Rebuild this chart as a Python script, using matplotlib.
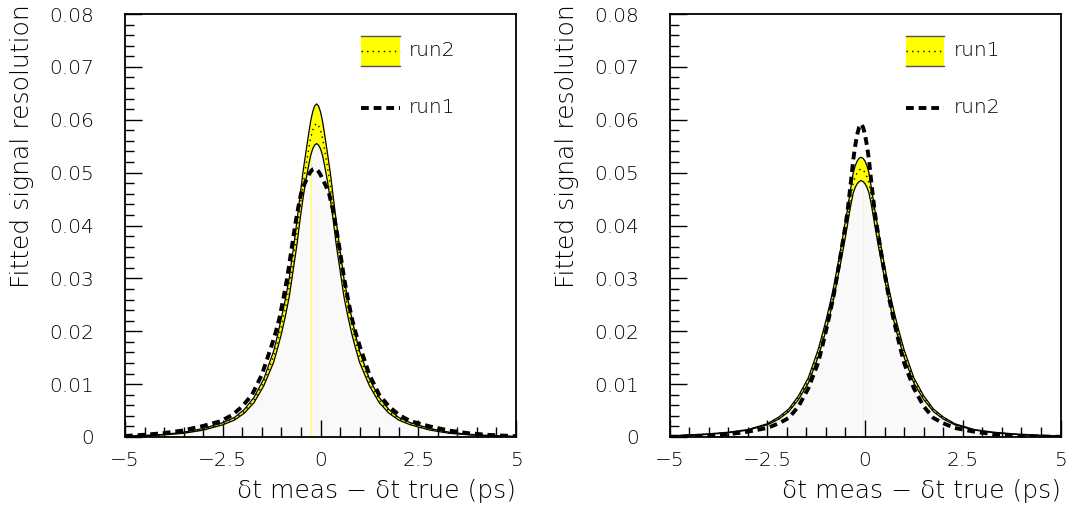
import matplotlib
matplotlib.use("Agg")
import matplotlib.pyplot as plt
from matplotlib.ticker import MultipleLocator
from matplotlib.lines import Line2D
from matplotlib.patches import Rectangle

# ---------------- data ----------------
# x grid for the fitted bands (ps)
x_band = [-5.0, -4.5, -4.0, -3.5, -3.0, -2.5, -2.2, -1.95, -1.7, -1.45, -1.2, -1.1, -1.0,
          -0.9, -0.8, -0.7, -0.6, -0.525, -0.45, -0.375, -0.3, -0.25, -0.2, -0.15, -0.1,
          -0.05, 0.0, 0.05, 0.1, 0.175, 0.25, 0.325, 0.4, 0.5, 0.6, 0.7, 0.8, 0.9, 1.0,
          1.25, 1.5, 1.75, 2.0, 2.3, 2.8, 3.3, 3.8, 4.3, 5.0]

# left panel: band = run2, dashed = run1
left_upper = [0.00015, 0.0003, 0.0005, 0.0009, 0.0016, 0.0027, 0.0037, 0.0052, 0.0075, 0.0110,
              0.0162, 0.0192, 0.0225, 0.0260, 0.0300, 0.0353, 0.0410, 0.0455, 0.0500, 0.0538,
              0.0575, 0.0598, 0.0615, 0.0626, 0.0630,
              0.0626, 0.0615, 0.0598, 0.0575, 0.0538, 0.0500, 0.0455, 0.0410, 0.0353, 0.0300,
              0.0260, 0.0225, 0.0192, 0.0162, 0.0110, 0.0075, 0.0052, 0.0037, 0.0027, 0.0016,
              0.0009, 0.0005, 0.0003, 0.0001]
left_lower = [0.0001, 0.0002, 0.0004, 0.0007, 0.0013, 0.0023, 0.0032, 0.0045, 0.0065, 0.0097,
              0.0141, 0.0167, 0.0195, 0.0228, 0.0265, 0.0315, 0.0365, 0.0410, 0.0450, 0.0485,
              0.0515, 0.0533, 0.0545, 0.0552, 0.0555,
              0.0552, 0.0545, 0.0533, 0.0515, 0.0485, 0.0450, 0.0410, 0.0365, 0.0315, 0.0265,
              0.0228, 0.0195, 0.0167, 0.0141, 0.0097, 0.0065, 0.0045, 0.0032, 0.0023, 0.0013,
              0.0007, 0.0004, 0.0002, 0.00008]
left_mid = [0.00012, 0.00025, 0.00045, 0.0008, 0.00145, 0.0025, 0.00345, 0.00485, 0.0070, 0.01035,
            0.0152, 0.0180, 0.0210, 0.0244, 0.0283, 0.0334, 0.0388, 0.0433, 0.0475, 0.0512,
            0.0545, 0.0566, 0.0580, 0.0589, 0.0593,
            0.0589, 0.0580, 0.0566, 0.0545, 0.0512, 0.0475, 0.0433, 0.0388, 0.0334, 0.0283,
            0.0244, 0.0210, 0.0180, 0.0152, 0.01035, 0.0070, 0.00485, 0.00345, 0.0025, 0.00145,
            0.0008, 0.00045, 0.00025, 0.00009]
x_dash_left = [-5.0, -4.55, -4.05, -3.55, -3.05, -2.55, -2.25, -2.0, -1.75, -1.5, -1.25, -1.15,
               -1.05, -0.95, -0.85, -0.75, -0.65, -0.575, -0.5, -0.425, -0.35, -0.3, -0.25,
               -0.2, -0.15, -0.1, -0.05, 0.0, 0.05, 0.13, 0.22, 0.31, 0.39, 0.5, 0.6, 0.7,
               0.8, 0.9, 1.0, 1.25, 1.5, 1.75, 2.0, 2.3, 2.8, 3.3, 3.8, 4.3, 5.0]
left_dashed = [0.0002, 0.0004, 0.0007, 0.0012, 0.0020, 0.0030, 0.0042, 0.0058, 0.0080, 0.0118,
               0.0173, 0.0197, 0.0225, 0.0262, 0.0302, 0.0351, 0.0400, 0.0432, 0.0460, 0.0476,
               0.0488, 0.0496, 0.0502, 0.0506, 0.0507,
               0.0506, 0.0502, 0.0496, 0.0488, 0.0476, 0.0460, 0.0432, 0.0400, 0.0351, 0.0302,
               0.0262, 0.0225, 0.0197, 0.0173, 0.0118, 0.0080, 0.0058, 0.0042, 0.0030, 0.0020,
               0.0012, 0.0007, 0.0004, 0.00015]

# right panel: band = run1, dashed = run2
right_upper = [0.0002, 0.0004, 0.0006, 0.0009, 0.0014, 0.0025, 0.0038, 0.0053, 0.0078, 0.0112,
               0.0165, 0.0192, 0.0220, 0.0251, 0.0285, 0.0324, 0.0365, 0.0398, 0.0430, 0.0466,
               0.0500, 0.0513, 0.0522, 0.0527, 0.0529,
               0.0527, 0.0522, 0.0513, 0.0500, 0.0466, 0.0430, 0.0398, 0.0365, 0.0324, 0.0285,
               0.0251, 0.0220, 0.0192, 0.0165, 0.0112, 0.0078, 0.0053, 0.0038, 0.0025, 0.0014,
               0.0009, 0.0006, 0.0004, 0.00015]
right_lower = [0.00018, 0.0003, 0.0005, 0.0008, 0.0013, 0.0023, 0.0034, 0.0048, 0.0071, 0.0102,
               0.0151, 0.0175, 0.0201, 0.0230, 0.0262, 0.0300, 0.0338, 0.0368, 0.0400, 0.0434,
               0.0462, 0.0472, 0.0479, 0.0483, 0.0485,
               0.0483, 0.0479, 0.0472, 0.0462, 0.0434, 0.0400, 0.0368, 0.0338, 0.0300, 0.0262,
               0.0230, 0.0201, 0.0175, 0.0151, 0.0102, 0.0071, 0.0048, 0.0034, 0.0023, 0.0013,
               0.0008, 0.0005, 0.0003, 0.00013]
right_mid = [0.0002, 0.00035, 0.00055, 0.00085, 0.00135, 0.0024, 0.0036, 0.00505, 0.00745, 0.0107,
             0.0158, 0.0184, 0.0211, 0.0241, 0.0274, 0.0312, 0.0352, 0.0383, 0.0415, 0.0450,
             0.0481, 0.0492, 0.0500, 0.0505, 0.0507,
             0.0505, 0.0500, 0.0492, 0.0481, 0.0450, 0.0415, 0.0383, 0.0352, 0.0312, 0.0274,
             0.0241, 0.0211, 0.0184, 0.0158, 0.0107, 0.00745, 0.00505, 0.0036, 0.0024, 0.00135,
             0.00085, 0.00055, 0.00035, 0.00014]
right_dashed = [0.00005, 0.0001, 0.0002, 0.0005, 0.0010, 0.0017, 0.0026, 0.0036, 0.0058, 0.0092,
                0.0140, 0.0169, 0.0200, 0.0233, 0.0268, 0.0310, 0.0355, 0.0389, 0.0425, 0.0473,
                0.0525, 0.0551, 0.0572, 0.0586, 0.0592,
                0.0586, 0.0572, 0.0551, 0.0525, 0.0473, 0.0425, 0.0389, 0.0355, 0.0310, 0.0268,
                0.0233, 0.0200, 0.0169, 0.0140, 0.0092, 0.0058, 0.0036, 0.0026, 0.0017, 0.0010,
                0.0005, 0.0002, 0.0001, 0.00004]

# thin vertical marker inside each band (x position, height)
left_marker = (-0.25, 0.053)
right_marker = (-0.05, 0.048)

band_labels = ["run2", "run1"]
dash_labels = ["run1", "run2"]

x_ticks = [-5, -2.5, 0, 2.5, 5]
x_ticklabels = ["\u22125", "\u22122.5", "0", "2.5", "5"]
y_ticks = [0, 0.01, 0.02, 0.03, 0.04, 0.05, 0.06, 0.07, 0.08]
y_ticklabels = ["0", "0.01", "0.02", "0.03", "0.04", "0.05", "0.06", "0.07", "0.08"]

xlabel = "\u03b4t meas \u2212 \u03b4t true (ps)"
ylabel = "Fitted signal resolution"

# ---------------- figure ----------------
plt.rcParams['font.family'] = ['DejaVu Sans']
plt.rcParams['font.weight'] = 'light'
FS = 14.5      # tick labels / legend
FT = 18        # axis titles
TXT = 'black'
fig = plt.figure(figsize=(10.67, 5.13), dpi=100)
W, H = 1067.0, 513.0
ax_l = fig.add_axes([125 / W, (513 - 437) / H, 391 / W, 423 / H])
ax_r = fig.add_axes([669.5 / W, (513 - 437) / H, 391 / W, 423 / H])

panels = [
    (ax_l, left_upper, left_lower, left_mid, x_dash_left, left_dashed, left_marker, '#ffff60'),
    (ax_r, right_upper, right_lower, right_mid, x_band, right_dashed, right_marker, '#f2f2e8'),
]

DASH = (0, (2.0, 1.25))
for i, (ax, up, lo, mid, xd, dash, marker, mcol) in enumerate(panels):
    ax.fill_between(x_band, 0, lo, color='#f9f9f9', lw=0, zorder=1)
    ax.fill_between(x_band, lo, up, color='#ffff00', lw=0, zorder=2)
    ax.vlines(marker[0], 0, marker[1], color=mcol, lw=0.9, zorder=2)
    ax.plot(x_band, up, color='black', lw=0.9, zorder=3)
    ax.plot(x_band, lo, color='black', lw=0.9, zorder=3)
    ax.plot(x_band, mid, color='black', lw=1.0, ls=(0, (1, 3)), zorder=3)
    ax.plot(xd, dash, color='black', lw=2.8, ls=DASH, zorder=4, dash_capstyle='butt')

    ax.set_xlim(-5, 5)
    ax.set_ylim(0, 0.08)
    ax.set_xticks(x_ticks)
    ax.set_xticklabels(x_ticklabels, fontweight='light')
    ax.set_yticks(y_ticks)
    ax.set_yticklabels(y_ticklabels, fontweight='light')
    ax.xaxis.set_minor_locator(MultipleLocator(0.5))
    ax.yaxis.set_minor_locator(MultipleLocator(0.002))
    ax.tick_params(which='both', direction='in', top=False, right=False,
                   labelsize=FS, colors='black', labelcolor=TXT)
    ax.tick_params(axis='x', which='major', length=12, width=1.0, pad=10)
    ax.tick_params(axis='x', which='minor', length=7, width=1.0)
    ax.tick_params(axis='y', which='major', length=12, width=1.0, pad=22)
    ax.tick_params(axis='y', which='minor', length=6.5, width=1.0)
    for s in ax.spines.values():
        s.set_linewidth(1.3)
        s.set_color('black')

    ax.set_xlabel(xlabel, fontsize=FT, loc='right', color=TXT, fontweight='light')
    ax.xaxis.set_label_coords(1.0, -0.1)
    ax.set_ylabel(ylabel, fontsize=FT, loc='top', color=TXT, fontweight='light')
    ax.yaxis.set_label_coords(-0.232, 1.022)

    # legend drawn by hand, as in the reference
    tr = ax.transAxes
    ax.add_patch(Rectangle((0.604, 0.878), 0.099, 0.071, transform=tr,
                           facecolor='#ffff00', edgecolor='none', zorder=5))
    ax.add_line(Line2D([0.604, 0.703], [0.949, 0.949], transform=tr, color='#555555', lw=1.0, zorder=6))
    ax.add_line(Line2D([0.604, 0.703], [0.878, 0.878], transform=tr, color='#555555', lw=1.0, zorder=6))
    ax.add_line(Line2D([0.604, 0.703], [0.913, 0.913], transform=tr, color='black', lw=1.0,
                       ls=(0, (1, 3)), zorder=6))
    ax.text(0.726, 0.913, band_labels[i], transform=tr, fontsize=FS, va='center', ha='left',
            color=TXT, fontweight='light')
    ax.add_line(Line2D([0.604, 0.703], [0.778, 0.778], transform=tr, color='black', lw=2.8,
                       ls=DASH, zorder=6))
    ax.text(0.726, 0.778, dash_labels[i], transform=tr, fontsize=FS, va='center', ha='left',
            color=TXT, fontweight='light')

fig.savefig("out.png", dpi=100)
